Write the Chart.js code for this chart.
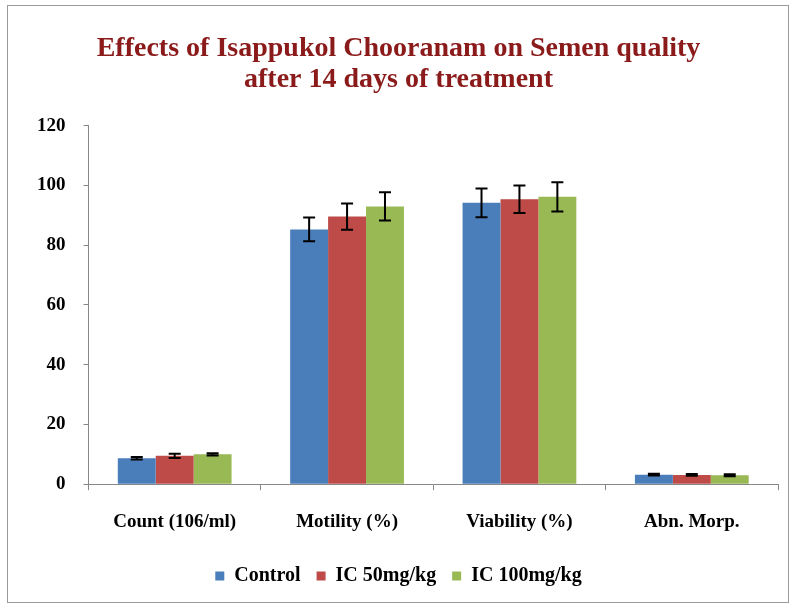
<!DOCTYPE html>
<html>
<head>
<meta charset="utf-8">
<script src="https://cdn.jsdelivr.net/npm/chart.js@4"></script>
<style>
  body { margin: 0; background: #fff; }
  #frame { position: absolute; left: 7px; top: 5px; width: 782px; height: 598px; border: 1px solid #9a9a9a; box-sizing: border-box; }
  #wrap { position: absolute; left: 0; top: 0; width: 797px; height: 610px; }
</style>
</head>
<body>
<div id="frame"></div>
<div id="wrap"><canvas id="chart"></canvas></div>
<script>
// categories and series
const categories = ["Count (106/ml)", "Motility (%)", "Viability (%)", "Abn. Morp."];
const control = [8.7, 85.3, 94.2, 3.2];
const ic50 = [9.5, 89.6, 95.4, 3.1];
const ic100 = [10.0, 93.0, 96.2, 3.0];
const controlErr = [0.4, 4.0, 4.8, 0.3];
const ic50Err = [0.7, 4.4, 4.6, 0.3];
const ic100Err = [0.4, 4.7, 4.9, 0.3];
const yTicks = [0, 20, 40, 60, 80, 100, 120];

const errors = [controlErr, ic50Err, ic100Err];

// draw error bars from the bar elements and y scale
const errorBars = {
    id: "errorBars",
    afterDatasetsDraw(chart) {
        const ctx = chart.ctx;
        const y = chart.scales.y;
        ctx.save();
        ctx.strokeStyle = "#000";
        ctx.lineWidth = 2;
        chart.data.datasets.forEach((ds, i) => {
            chart.getDatasetMeta(i).data.forEach((bar, j) => {
                const v = ds.data[j];
                const e = errors[i][j];
                const top = y.getPixelForValue(v + e);
                const bot = y.getPixelForValue(v - e);
                ctx.beginPath();
                ctx.moveTo(bar.x, top); ctx.lineTo(bar.x, bot);
                ctx.moveTo(bar.x - 6, top); ctx.lineTo(bar.x + 6, top);
                ctx.moveTo(bar.x - 6, bot); ctx.lineTo(bar.x + 6, bot);
                ctx.stroke();
            });
        });
        ctx.restore();
    }
};

const font = "'Liberation Serif', 'Times New Roman', serif";

new Chart(document.getElementById("chart"), {
    type: "bar",
    data: {
        labels: categories,
        datasets: [
            { label: "Control", data: control, backgroundColor: "#4a7ebb" },
            { label: "IC 50mg/kg", data: ic50, backgroundColor: "#be4b48" },
            { label: "IC 100mg/kg", data: ic100, backgroundColor: "#98b954" }
        ]
    },
    options: {
        animation: false,
        responsive: true,
        maintainAspectRatio: false,
        layout: { padding: { left: 19, right: 19, top: 33, bottom: 14 } },
        datasets: { bar: { barPercentage: 1, categoryPercentage: 0.66 } },
        scales: {
            x: {
                afterFit: (s) => { s.height -= 3; },
                grid: { display: true, drawOnChartArea: false, offset: true, color: "#888", tickLength: 6 },
                border: { color: "#888" },
                ticks: { color: "#000", font: { family: font, size: 19, weight: "bold" }, padding: 20 }
            },
            y: {
                min: 0, max: 120,
                afterBuildTicks: (axis) => { axis.ticks = yTicks.map(v => ({ value: v })); },
                grid: { display: true, drawOnChartArea: false, color: "#888", tickLength: 5 },
                border: { color: "#888" },
                ticks: { color: "#000", font: { family: font, size: 19, weight: "bold" }, padding: 18 }
            }
        },
        plugins: {
            title: {
                display: true,
                text: ["Effects of Isappukol Chooranam on Semen quality", "after 14 days of treatment"],
                color: "#8b1a1a",
                font: { family: font, size: 28, weight: "bold", lineHeight: 1.12 },
                padding: { top: 0, bottom: 30 }
            },
            legend: {
                position: "bottom",
                labels: {
                    color: "#000",
                    font: { family: font, size: 20, weight: "bold" },
                    boxWidth: 9, boxHeight: 9, padding: 16
                }
            },
            tooltip: { enabled: false }
        }
    },
    plugins: [errorBars]
});
</script>
</body>
</html>
